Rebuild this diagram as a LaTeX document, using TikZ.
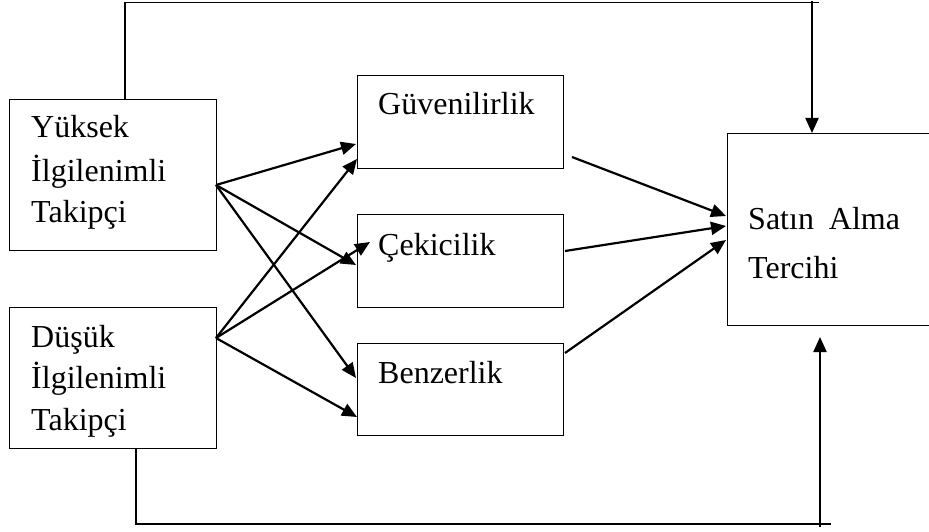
\documentclass[tikz,border=0pt]{standalone}
\usepackage{fontspec}
\setmainfont{Liberation Serif}
\usetikzlibrary{arrows.meta}
\begin{document}
\begin{tikzpicture}[x=1pt,y=-1pt,
  box/.style={draw, line width=1.4pt, inner sep=0pt, anchor=north west},
  txt/.style={font=\fontsize{32}{42}\selectfont, inner sep=0pt, anchor=base west},
  arr/.style={line width=2.2pt, -{Triangle[length=15pt,width=13pt]}}]
\clip (0,0) rectangle (929,532);
% boxes
\node[box, minimum width=207pt, minimum height=151pt] (yu) at (9,99) {};
\node[box, minimum width=207pt, minimum height=141pt] (du) at (9,307) {};
\node[box, minimum width=206pt, minimum height=93pt] (gu) at (357,75) {};
\node[box, minimum width=206pt, minimum height=93pt] (ce) at (357,214) {};
\node[box, minimum width=206pt, minimum height=92pt] (be) at (357,343) {};
\node[box, minimum width=260pt, minimum height=192pt] (sa) at (727,133) {};
% texts
\node[txt] (yu1) at (31,138) {Yüksek};
\node[txt] (yu2) at (31,181) {İlgilenimli};
\node[txt] (yu3) at (31,222) {Takipçi};
\node[txt] (du1) at (31,347) {Düşük};
\node[txt] (du2) at (31,388) {İlgilenimli};
\node[txt] (du3) at (31,430) {Takipçi};
\node[txt] (gut) at (378,115) {Güvenilirlik};
\node[txt] (cet) at (378,255) {Çekicilik};
\node[txt] (bet) at (378,383) {Benzerlik};
\node[txt] (sa1) at (748,229) {Satın\hspace{15pt}Alma};
\node[txt] (sa2) at (748,278) {Tercihi};
% connector points
\coordinate (yo) at (216,185);
\coordinate (do) at (216,338);
\coordinate (guA) at (356,144);
\coordinate (guB) at (357,159);
\coordinate (ceA) at (356,265);
\coordinate (ceB) at (370,242);
\coordinate (beA) at (356,378);
\coordinate (beB) at (357,417);
\coordinate (guo) at (572,157);
\coordinate (ceo) at (565,251);
\coordinate (beo) at (565,353);
\coordinate (saA) at (726,216);
\coordinate (saB) at (726,226);
\coordinate (saC) at (726,240);
\coordinate (tl) at (125,99);
\coordinate (tr) at (819,2.5);
\coordinate (tt) at (812,1);
\coordinate (bl) at (136,448);
\coordinate (br) at (831,524);
\coordinate (bt) at (820,527);
\coordinate (bh) at (820,337);
% feedback lines
\draw[line width=1.6pt] (tl) |- (tr);
\draw[arr] (tt) -- (tt |- sa.north);
\draw[line width=1.6pt] (bl) |- (br);
\draw[arr] (bt) -- (bh);
% arrows
\draw[arr] (yo) -- (guA);
\draw[arr] (yo) -- (ceA);
\draw[arr] (yo) -- (beA);
\draw[arr] (do) -- (guB);
\draw[arr] (do) -- (ceB);
\draw[arr] (do) -- (beB);
\draw[arr] (guo) -- (saA);
\draw[arr] (ceo) -- (saB);
\draw[arr] (beo) -- (saC);
\end{tikzpicture}
\end{document}
